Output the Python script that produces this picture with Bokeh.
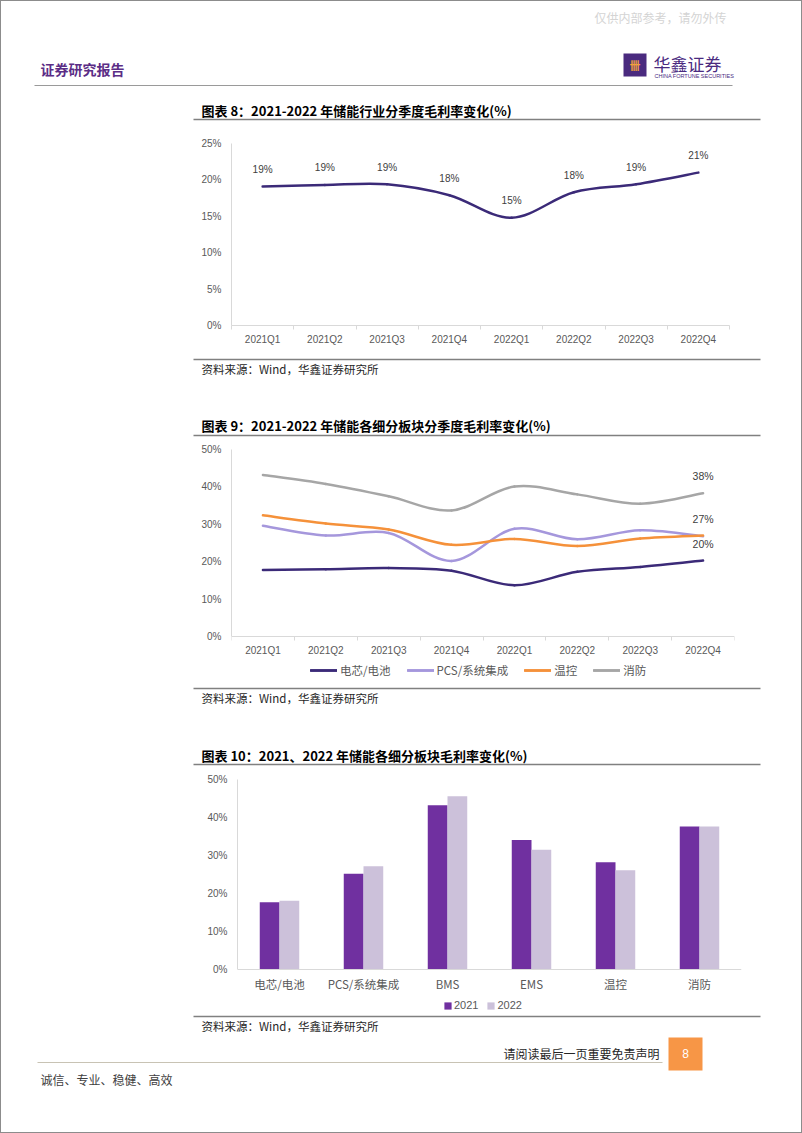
import numpy as np
from bokeh.plotting import figure
from bokeh.models import (Range1d, FixedTicker, Legend, LegendItem, ColumnDataSource,
                          FactorRange, PrintfTickFormatter)
from bokeh.layouts import column
from bokeh.transform import dodge
from bokeh.core.properties import value
from bokeh.embed import file_html
from bokeh.resources import INLINE

# ---------------- data ----------------
quarters = ["2021Q1", "2021Q2", "2021Q3", "2021Q4", "2022Q1", "2022Q2", "2022Q3", "2022Q4"]
industry_margin = [19.1, 19.3, 19.4, 17.9, 14.8, 18.3, 19.4, 21.0]

cell_margin = [17.8, 18.0, 18.3, 17.6, 13.7, 17.3, 18.6, 20.3]
pcs_margin = [29.6, 27.0, 27.7, 20.2, 28.8, 26.0, 28.4, 26.8]
thermal_margin = [32.4, 30.2, 28.6, 24.5, 26.1, 24.2, 26.2, 27.0]
fire_margin = [43.2, 40.8, 37.5, 33.7, 40.1, 38.0, 35.5, 38.3]
series_names = ["电芯/电池", "PCS/系统集成", "温控", "消防"]

segments = ["电芯/电池", "PCS/系统集成", "BMS", "EMS", "温控", "消防"]
margin_2021 = [17.7, 25.2, 43.2, 34.1, 28.2, 37.6]
margin_2022 = [18.1, 27.2, 45.6, 31.5, 26.1, 37.6]
years = ["2021", "2022"]

# ---------------- styles ----------------
W = 802
OFF = 8
CJK = "Noto Sans CJK SC"
LAT = "Liberation Sans"
PURPLE = "#4a2a7f"
AXIS_GRAY = "#d9d9d9"
TICK_TXT = "#595959"
RULE = "#808080"


def band(h, top_pad=0, bottom_pad=0):
    H = h + top_pad + bottom_pad
    p = figure(width=W, height=H, x_range=Range1d(-OFF, W - OFF),
               y_range=Range1d(h + bottom_pad, -top_pad),
               output_backend="svg", toolbar_location=None, min_border=0,
               x_axis_type=None, y_axis_type=None, frame_align=False)
    p.grid.visible = False
    p.outline_line_color = None
    p.background_fill_color = None
    p.border_fill_color = None
    return p


def txt(p, x, y, s, size, color="#000000", font=CJK, style="normal", align="left"):
    p.text(x=[x], y=[y], text=[s], text_font=value(font), text_font_size=f"{size}px",
           text_font_style=style, text_color=color, text_align=align, text_baseline="middle")


def hline(p, x0, x1, y, color=RULE, width=1.5):
    p.segment(x0=[x0], y0=[y], x1=[x1], y1=[y], line_color=color, line_width=width)


def source_note(p, y):
    txt(p, 193, y, "资料来源：Wind，华鑫证券研究所", 11.5, "#262626")


def smooth_line(p, xs, ys, color, width=2.5):
    n = len(xs)
    d = dict(x0=[], y0=[], x1=[], y1=[], cx0=[], cy0=[], cx1=[], cy1=[])
    for i in range(n - 1):
        a = max(i - 1, 0)
        b = min(i + 2, n - 1)
        d["x0"].append(xs[i]); d["y0"].append(ys[i])
        d["x1"].append(xs[i + 1]); d["y1"].append(ys[i + 1])
        d["cx0"].append(xs[i] + (xs[i + 1] - xs[a]) / 6)
        d["cy0"].append(ys[i] + (ys[i + 1] - ys[a]) / 6)
        d["cx1"].append(xs[i + 1] - (xs[b] - xs[i]) / 6)
        d["cy1"].append(ys[i + 1] - (ys[b] - ys[i]) / 6)
    return p.bezier(source=ColumnDataSource(d), x0="x0", y0="y0", x1="x1", y1="y1",
                    cx0="cx0", cy0="cy0", cx1="cx1", cy1="cy1",
                    line_color=color, line_width=width, line_cap="round")


def style_axes(p, ymax, ystep, label_font, label_size, xstandoff):
    p.grid.visible = False
    p.outline_line_color = None
    p.background_fill_color = "white"
    p.border_fill_color = None
    ya = p.yaxis[0]
    ya.ticker = FixedTicker(ticks=list(range(0, ymax + 1, ystep)))
    ya.formatter = PrintfTickFormatter(format="%d%%")
    ya.bounds = (0, ymax)
    ya.major_tick_line_color = None
    ya.minor_tick_line_color = None
    ya.axis_line_color = AXIS_GRAY
    ya.major_label_text_font = LAT
    ya.major_label_text_font_size = "10px"
    ya.major_label_text_color = TICK_TXT
    ya.major_label_standoff = 4
    xa = p.xaxis[0]
    xa.fixed_location = 0
    xa.axis_line_color = AXIS_GRAY
    xa.major_tick_line_color = None
    xa.major_label_text_font = label_font
    xa.major_label_text_font_size = f"{label_size}px"
    xa.major_label_text_color = TICK_TXT
    xa.major_label_standoff = xstandoff


def line_chart(h, top, bottom, left, right, ystart, ymax, ystep):
    p = figure(width=W, height=h, x_range=Range1d(0, len(quarters)),
               y_range=Range1d(ystart, ymax),
               output_backend="svg", toolbar_location=None, frame_align=False,
               min_border_top=top, min_border_bottom=bottom,
               min_border_left=left, min_border_right=right)
    style_axes(p, ymax, ystep, LAT, 10, 2)
    centers = [i + 0.5 for i in range(len(quarters))]
    xa = p.xaxis[0]
    xa.ticker = FixedTicker(ticks=centers, minor_ticks=list(range(len(quarters) + 1)))
    xa.major_label_overrides = {c: q for c, q in zip(centers, quarters)}
    xa.minor_tick_line_color = AXIS_GRAY
    xa.minor_tick_out = 4
    xa.minor_tick_in = 0
    return p, centers


# ---------------- band A: header + title 8 ----------------
bA = band(120, top_pad=OFF)
txt(bA, 652, 9, "仅供内部参考，请勿外传", 12, "#d4d4d4", align="center")
txt(bA, 32, 60, "证券研究报告", 14, "#5b2d86", style="bold")
bA.quad(left=[615], right=[638], top=[45], bottom=[68], fill_color=PURPLE, line_color=None)
txt(bA, 626.5, 56.5, "卌", 11, "#f2a03c", style="bold", align="center")
txt(bA, 645, 55, "华鑫证券", 17, PURPLE)
txt(bA, 646, 67, "CHINA FORTUNE SECURITIES", 5.5, PURPLE, font=LAT)
hline(bA, 26, 724, 77, "#9a9a9a", 1.2)
txt(bA, 193, 102, "图表 8：2021-2022 年储能行业分季度毛利率变化(%)", 13, "#000000", style="bold")
hline(bA, 185, 752, 111)

# ---------------- chart 1 ----------------
p1, c1 = line_chart(222, 15, 25, 231, 73, 0, 25, 5)
p1.xaxis[0].fixed_location = None
smooth_line(p1, c1, industry_margin, "#3b2a78", 2.5)
p1.text(x=c1, y=industry_margin, text=[f"{round(v)}%" for v in industry_margin],
        y_offset=-17, text_font=value(LAT), text_font_size="10px", text_color="#404040",
        text_align="center", text_baseline="middle")

# ---------------- band B ----------------
bB = band(90)
hline(bB, 185, 752, 9)
source_note(bB, 18)
txt(bB, 193, 75, "图表 9：2021-2022 年储能各细分板块分季度毛利率变化(%)", 13, "#000000", style="bold")
hline(bB, 185, 752, 85)

# ---------------- chart 2 ----------------
# frame 449..684 (page px); 0% at 636, 50% at 449
p2, c2 = line_chart(244, 9, 0, 231, 68, -48 / 3.74, 50, 10)
colors2 = ["#3b2a78", "#a597dc", "#f5913a", "#a6a6a6"]
all_series = [cell_margin, pcs_margin, thermal_margin, fire_margin]
items = []
for name, vals, col in zip(series_names, all_series, colors2):
    rb = smooth_line(p2, c2, vals, col, 2.5)
    dummy = p2.line(x=[np.nan], y=[np.nan], line_color=col, line_width=2.5)
    items.append(LegendItem(label=name, renderers=[rb, dummy]))
end_labels = [cell_margin, thermal_margin, fire_margin]
p2.text(x=[c2[-1]] * 3, y=[s[-1] for s in end_labels],
        text=[f"{round(s[-1])}%" for s in end_labels], y_offset=-17,
        text_font=value(LAT), text_font_size="10.5px", text_color="#404040",
        text_align="center", text_baseline="middle")
lg2 = Legend(items=items, orientation="horizontal", location=(79, 6),
             glyph_width=27, glyph_height=12, label_standoff=3, spacing=16,
             label_text_font=CJK, label_text_font_size="11.5px", label_text_color=TICK_TXT,
             padding=0, margin=0, border_line_color=None, background_fill_alpha=0)
p2.add_layout(lg2, "center")

# ---------------- band C ----------------
bC = band(86)
hline(bC, 185, 752, 4)
source_note(bC, 13)
txt(bC, 193, 71, "图表 10：2021、2022 年储能各细分板块毛利率变化(%)", 13, "#000000", style="bold")
hline(bC, 185, 752, 80)

# ---------------- chart 3 ----------------
# frame 779..1014 (page px); 0% at 969, 50% at 779
p3 = figure(width=W, height=244, x_range=FactorRange(*segments), y_range=Range1d(-45 / 3.8, 50),
            output_backend="svg", toolbar_location=None, frame_align=False,
            min_border_top=9, min_border_bottom=0, min_border_left=237, min_border_right=61)
style_axes(p3, 50, 10, CJK, 11.5, 0)
p3.xaxis[0].minor_tick_line_color = None
src3 = ColumnDataSource(dict(seg=segments, m2021=margin_2021, m2022=margin_2022))
r21 = p3.vbar(x=dodge("seg", -0.1175, range=p3.x_range), top="m2021", width=0.235,
              source=src3, fill_color="#7030a0", line_color=None)
r22 = p3.vbar(x=dodge("seg", 0.1175, range=p3.x_range), top="m2022", width=0.235,
              source=src3, fill_color="#ccc1da", line_color=None)
lg3 = Legend(items=[LegendItem(label=years[0], renderers=[r21]),
                    LegendItem(label=years[1], renderers=[r22])],
             orientation="horizontal", location=(206, 3),
             glyph_width=9, glyph_height=9, label_standoff=2, spacing=8,
             label_text_font=LAT, label_text_font_size="11px", label_text_color=TICK_TXT,
             padding=0, margin=0, border_line_color=None, background_fill_alpha=0)
p3.add_layout(lg3, "center")

# ---------------- band D: source + footer ----------------
bD = band(111, bottom_pad=OFF)
hline(bD, 185, 752, 2)
source_note(bD, 11)
txt(bD, 651, 39, "请阅读最后一页重要免责声明", 12, "#262626", align="right")
bD.quad(left=[660], right=[694], top=[23], bottom=[56], fill_color="#f79646", line_color=None)
txt(bD, 677, 39, "8", 12, "#ffffff", font=LAT, align="center")
hline(bD, 29, 654, 48, "#c8c3b4", 1.2)
txt(bD, 32, 65, "诚信、专业、稳健、高效", 12, "#404040")

page = column(bA, p1, bB, p2, bC, p3, bD, spacing=0,
              styles={"outline": "1px solid #8c8c8c", "outline-offset": "-1px",
                      "background": "white"})
open("out.html", "w").write(file_html(page, INLINE, "page"))
